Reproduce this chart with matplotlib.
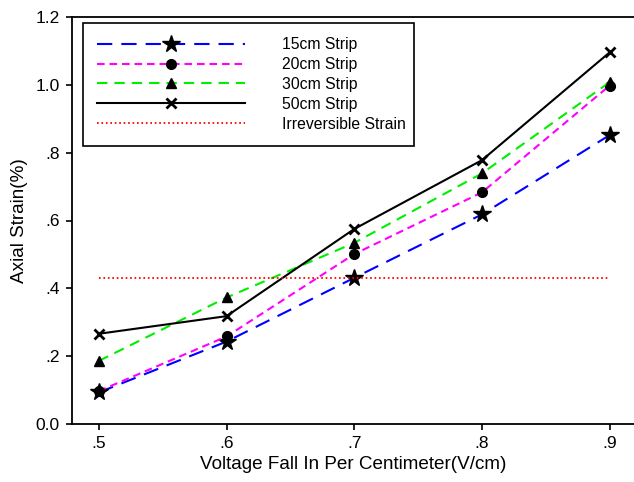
import matplotlib
matplotlib.use("Agg")
import matplotlib.pyplot as plt

plt.rcParams['font.family'] = ['Liberation Sans', 'DejaVu Sans']
plt.rcParams['lines.scale_dashes'] = False

# data
voltage = [0.5, 0.6, 0.7, 0.8, 0.9]
strain_15 = [0.093, 0.243, 0.431, 0.618, 0.852]
strain_20 = [0.097, 0.258, 0.501, 0.683, 0.998]
strain_30 = [0.186, 0.373, 0.534, 0.739, 1.008]
strain_50 = [0.266, 0.318, 0.575, 0.778, 1.096]
irreversible = 0.431
irr_x = [0.5, 0.9]

xticks = [0.5, 0.6, 0.7, 0.8, 0.9]
xtick_labels = ['.5', '.6', '.7', '.8', '.9']
yticks = [0.0, 0.2, 0.4, 0.6, 0.8, 1.0, 1.2]
ytick_labels = ['0.0', '.2', '.4', '.6', '.8', '1.0', '1.2']

fig = plt.figure(figsize=(6.34, 4.82), dpi=100)
ax = fig.add_axes([72 / 634, 1 - 424 / 482, 1 - 72 / 634, 407 / 482])

ax.plot(voltage, strain_15, color='#0000ff', lw=1.5, dashes=(11, 6.5),
        marker='*', ms=13, mfc='black', mec='black', label='15cm Strip')
ax.plot(voltage, strain_20, color='#ff00ff', lw=1.5, dashes=(5.5, 3.5),
        marker='o', ms=7, mfc='black', mec='black', label='20cm Strip')
ax.plot(voltage, strain_30, color='#00ee00', lw=1.5, dashes=(7.5, 5),
        marker='^', ms=7, mfc='black', mec='black', label='30cm Strip')
ax.plot(voltage, strain_50, color='black', lw=1.5,
        marker='x', ms=7, mew=2, mec='black', label='50cm Strip')
ax.plot(irr_x, [irreversible, irreversible], color='#ff0000', lw=1.3,
        dashes=(1.2, 2), label='Irreversible Strain')

ax.set_xlim(0.479, 0.919)
ax.set_ylim(0, 1.2)
ax.set_xticks(xticks)
ax.set_xticklabels(xtick_labels)
ax.set_yticks(yticks)
ax.set_yticklabels(ytick_labels)
ax.tick_params(direction='out', length=4, width=1.2, labelsize=12.5, pad=5)
ax.spines['right'].set_visible(False)
for s in ['left', 'bottom', 'top']:
    ax.spines[s].set_linewidth(1.3)

ax.set_xlabel('Voltage Fall In Per Centimeter(V/cm)', fontsize=13.6)
ax.set_ylabel('Axial Strain(%)', fontsize=13.6)
ax.xaxis.set_label_coords(0.5, -(456 - 424) / 407)
ax.yaxis.set_label_coords(-(72 - 28) / 562, 0.5)

leg = ax.legend(loc='upper left', bbox_to_anchor=(0.0196, 0.688, 0.589, 0.297),
                mode='expand', borderaxespad=0, fontsize=11.3, handlelength=9.4,
                handletextpad=2.36, labelspacing=0.31, borderpad=0.9,
                fancybox=False, edgecolor='black', framealpha=1)
leg.get_frame().set_linewidth(1.2)

fig.savefig('out.png', dpi=100)
